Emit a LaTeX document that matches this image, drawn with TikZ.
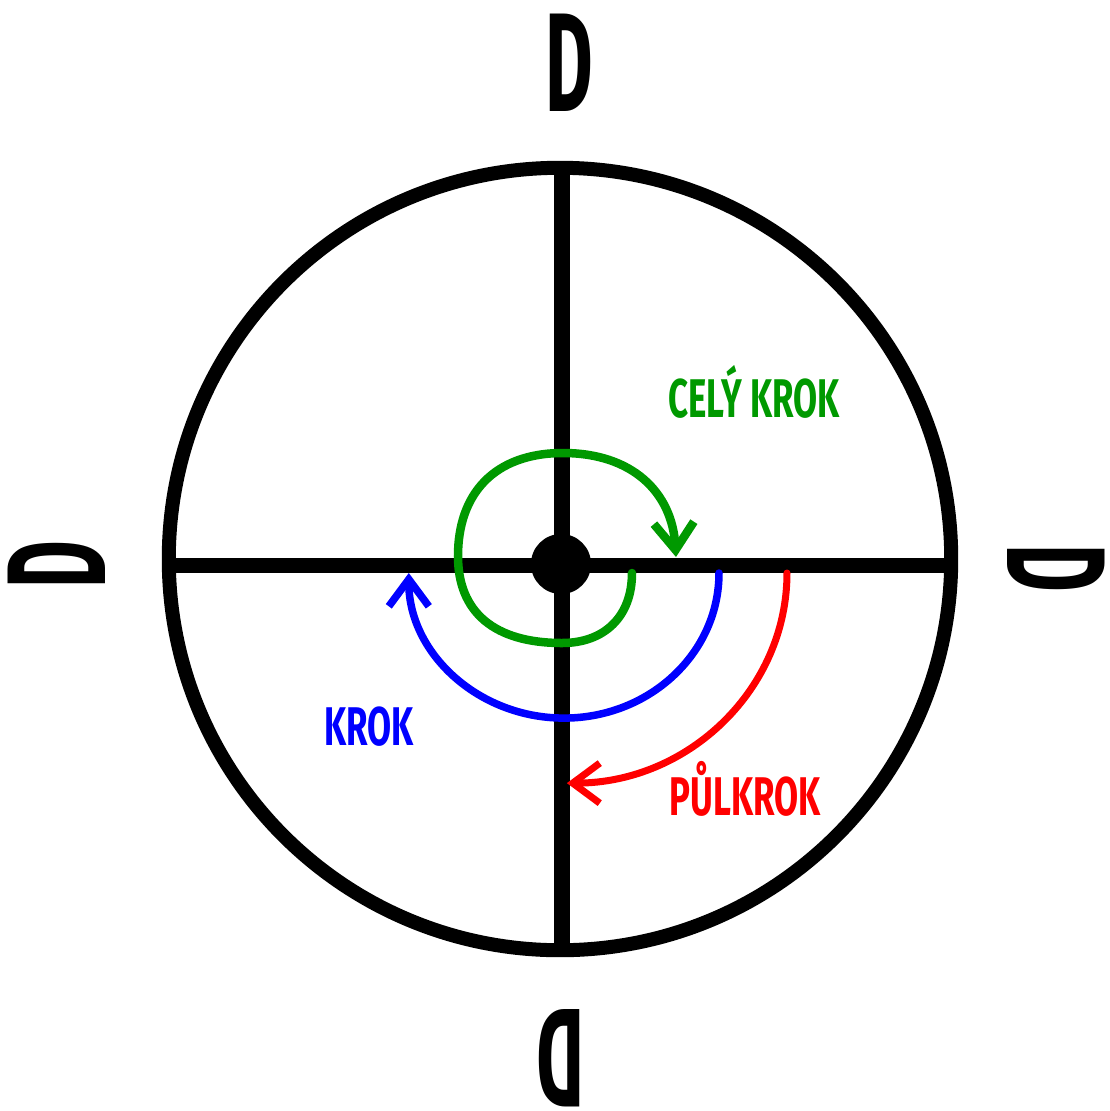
\documentclass[tikz,border=0pt]{standalone}
\usepackage{fontspec}
\usepackage{xcolor}
\usepackage{tikz}
\usetikzlibrary{arrows.meta,positioning}
\newfontfamily\dirfont[FakeStretch=0.52]{Fira Sans}
\newfontfamily\lblfont[FakeStretch=0.64]{Fira Sans}
\definecolor{fullG}{RGB}{0,153,0}
\definecolor{stepB}{RGB}{0,0,255}
\definecolor{halfR}{RGB}{255,0,0}

\begin{document}
\begin{tikzpicture}[x=0.01cm, y=-0.01cm,
    rim/.style={line width=0.14cm},
    axis/.style={line width=0.15cm},
    dirlbl/.style={font=\dirfont\bfseries\fontsize{40}{44}\selectfont, inner sep=0pt},
    steplbl/.style={font=\lblfont\bfseries\fontsize{15.5}{18}\selectfont, inner sep=0pt, anchor=base},
    barb/.style={-{Straight Barb[length=2.7mm, width=4mm]}, line cap=round}]
  \useasboundingbox (0,0) rectangle (1110,1111);

  % Direction letters round the rotor
  \node[dirlbl] (dN) at (569,63) {D};
  \node[dirlbl, rotate=90] (dW) at (57,565) {D};
  \node[dirlbl, rotate=-90] (dE) at (1056,568) {D};
  \node[dirlbl, rotate=180] (dS) at (561,1058) {D};

  % Stator ring and the two axes
  \coordinate (O) at (561,564);
  \coordinate (N) at (562,168);
  \coordinate (S) at (562,950);
  \coordinate (W) at (170,565);
  \coordinate (E) at (950,565);
  \draw[rim] (560,559) circle[radius=3.91cm];
  \draw[axis] (N) -- (S);
  \draw[axis] (W) -- (E);

  % Start and end points of the steps
  \coordinate (G0) at (632,573);
  \coordinate (G1) at (676,557);
  \coordinate (B0) at (719,573);
  \coordinate (R0) at (787,573);

  % Full step (green): loop round the centre
  \draw[fullG, line width=0.085cm, barb] (G0)
    .. controls (632,617) and (604,643) .. (562,643)
    .. controls (494,643) and (458,612) .. (458,556)
    .. controls (458,494) and (494,453) .. (563,453)
    .. controls (632,453) and (672,492) .. (G1);

  % Step (blue): half turn below the axis
  \draw[stepB, line width=0.075cm, barb] (B0)
    arc[start angle=0, end angle=-180, x radius=1.55cm, y radius=1.45cm];

  % Half step (red): quarter turn
  \draw[halfR, line width=0.07cm, barb] (R0)
    arc[start angle=0, end angle=-90, x radius=2.20cm, y radius=2.10cm];

  % Rotor hub
  \fill (O) circle[radius=0.30cm];

  % Labels
  \node[steplbl, fullG] (lFull) at (754,417) {CELÝ KROK};
  \node[steplbl, stepB] (lStep) at (369,745) {KROK};
  \node[steplbl, halfR] (lHalf) at (745,815) {PŮLKROK};
\end{tikzpicture}
\end{document}
